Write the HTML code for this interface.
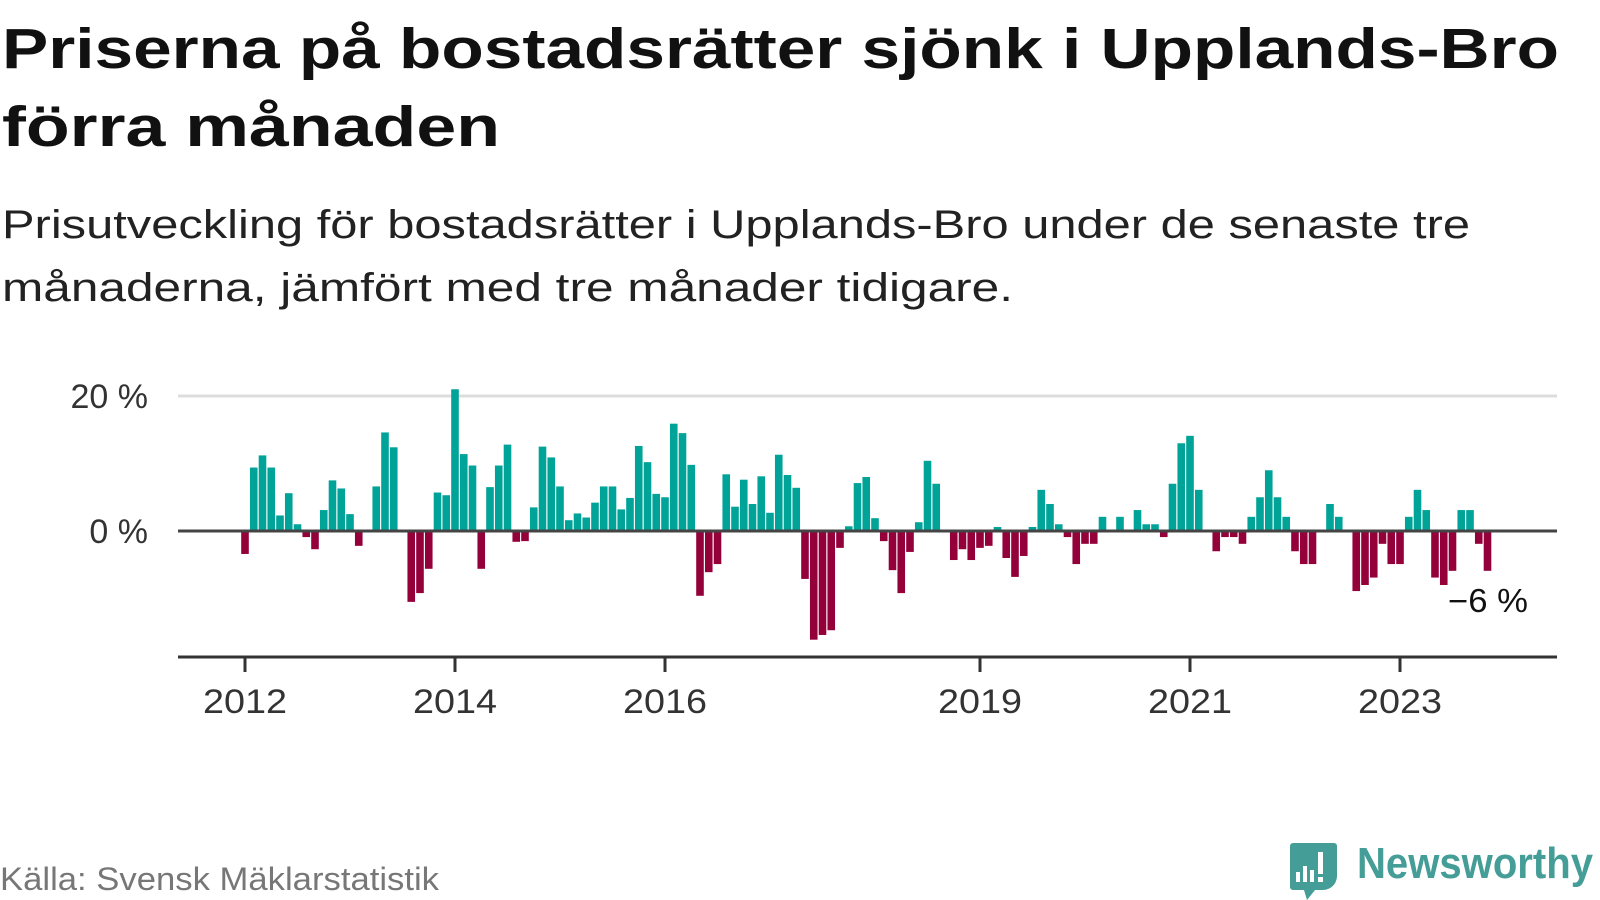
<!DOCTYPE html>
<html><head><meta charset="utf-8"><style>
body{margin:0;background:#fff;width:1600px;height:900px;overflow:hidden;font-family:"Liberation Sans",sans-serif}
svg{position:absolute;left:0;top:0}
</style></head><body>
<svg id="c" width="1600" height="900">
<text x="2" y="68" font-size="57" font-weight="bold" fill="#111" textLength="1557" lengthAdjust="spacingAndGlyphs">Priserna på bostadsrätter sjönk i Upplands-Bro</text>
<text x="2" y="146" font-size="57" font-weight="bold" fill="#111" textLength="498" lengthAdjust="spacingAndGlyphs">förra månaden</text>
<text x="2" y="238" font-size="40" fill="#222" textLength="1468" lengthAdjust="spacingAndGlyphs">Prisutveckling för bostadsrätter i Upplands-Bro under de senaste tre</text>
<text x="2" y="301" font-size="40" fill="#222" textLength="1011" lengthAdjust="spacingAndGlyphs">månaderna, jämfört med tre månader tidigare.</text>
<g id="grid"></g><g id="bars"></g><g id="axes"></g>
<text x="1448" y="612" font-size="33" fill="#111" textLength="80" lengthAdjust="spacingAndGlyphs">−6 %</text>
<text x="0" y="890" font-size="32" fill="#777" textLength="439" lengthAdjust="spacingAndGlyphs">Källa: Svensk Mäklarstatistik</text>
<g>
<path d="M1290 843 h44 a3 3 0 0 1 3 3 v30 a14 14 0 0 1 -14 14 h-8 l-8 10 l-3 -10 h-11 a3 3 0 0 1 -3 -3 v-41 a3 3 0 0 1 3 -3z" fill="#449d96"/>
<rect x="1296" y="872" width="4" height="10" fill="#fff"/><rect x="1303" y="866" width="4" height="16" fill="#fff"/><rect x="1310" y="870" width="4" height="12" fill="#fff"/><rect x="1318" y="852" width="5" height="22" fill="#fff"/><rect x="1318" y="877" width="5" height="5" fill="#fff"/>
<text x="1357" y="878" font-size="44" font-weight="bold" fill="#449d96" textLength="236" lengthAdjust="spacingAndGlyphs">Newsworthy</text>
</g>
</svg>
<script>
const values=[-3.4,9.4,11.2,9.4,2.3,5.6,1.0,-0.9,-2.7,3.1,7.5,6.3,2.5,-2.2,0,6.6,14.6,12.4,0,-10.5,-9.2,-5.6,5.7,5.3,
21.0,11.4,9.7,-5.6,6.5,9.7,12.8,-1.6,-1.5,3.5,12.5,10.9,6.6,1.6,2.6,2.0,4.2,6.6,6.6,3.2,4.9,12.6,10.2,5.5,
5.0,15.9,14.5,9.8,-9.6,-6.1,-4.9,8.4,3.6,7.6,4.0,8.1,2.7,11.3,8.3,6.4,-7.1,-16.1,-15.4,-14.7,-2.5,0.7,7.1,8.0,
1.9,-1.5,-5.8,-9.2,-3.1,1.3,10.4,7.0,0,-4.3,-2.7,-4.3,-2.5,-2.2,0.6,-4.0,-6.8,-3.7,0.6,6.1,4.0,1.0,-0.9,-4.9,
-1.9,-1.9,2.1,0,2.1,0,3.1,1.0,1.0,-0.9,7.0,13.0,14.1,6.1,0,-3.0,-0.9,-0.9,-1.9,2.1,5.0,9.0,5.0,2.1,
-3.0,-4.9,-4.9,0,4.0,2.1,0,-8.9,-8.0,-6.9,-1.9,-4.9,-4.9,2.1,6.1,3.1,-6.9,-8.0,-5.9,3.1,3.1,-1.9,-5.9];
const startYear=2012;
const yTicks=[0,20];
const yTickLabels=["0 %","20 %"];
const xTickYears=[2012,2014,2016,2019,2021,2023];
const NS="http://www.w3.org/2000/svg";
const x0=245, perMonth=8.75, y0=531, perPct=6.75;
function xm(i){return x0+perMonth*i;}
function xYear(y){return xm((y-startYear)*12);}
function yv(v){return y0-v*perPct;}
function mk(t,a,p){const e=document.createElementNS(NS,t);for(const k in a)e.setAttribute(k,a[k]);p.appendChild(e);return e;}
const grid=document.getElementById('grid'),bars=document.getElementById('bars'),axes=document.getElementById('axes');
yTicks.forEach((t,k)=>{
 const l=mk('line',{x1:178,x2:1557,y1:yv(t),y2:yv(t),stroke:t===0?'#444':'#ddd','stroke-width':3},t===0?axes:grid);
 
 
 const tx=mk('text',{x:148,y:yv(t)+12,'text-anchor':'end','font-size':34,fill:'#333'},grid);
 tx.textContent=yTickLabels[k];
 
 
});
values.forEach((v,i)=>{
 if(v===0)return;
 const r=mk('rect',{x:xm(i)-3.8,width:7.6,y:Math.min(yv(v),y0),height:Math.abs(yv(v)-y0),fill:v>0?'#00a398':'#93003a'},bars);
 
 
});
const ax=mk('line',{x1:178,x2:1557,y1:657,y2:657,stroke:'#333','stroke-width':3},axes);


xTickYears.forEach(yr=>{
 const t=mk('line',{x1:xYear(yr),x2:xYear(yr),y1:657,y2:672,stroke:'#333','stroke-width':3},axes);
 
 
 const l=mk('text',{x:xYear(yr),y:713,'text-anchor':'middle','font-size':34,fill:'#333',textLength:84,lengthAdjust:'spacingAndGlyphs'},axes);
 l.textContent=yr;
 
 
});
</script>
</body></html>
